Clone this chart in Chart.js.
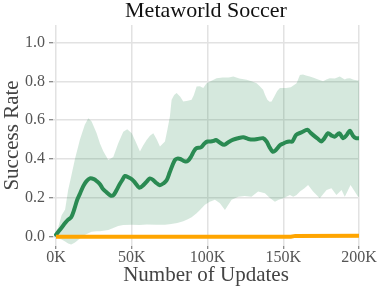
<!DOCTYPE html>
<html><head><meta charset="utf-8">
<script src="https://cdn.jsdelivr.net/npm/chart.js@4/dist/chart.umd.min.js"></script>
<style>html,body{margin:0;padding:0;background:#fff}#wrap{width:379px;height:296px}</style>
</head><body><div id="wrap"><canvas id="c" width="379" height="296"></canvas></div>
<script>
const titleText = 'Metaworld Soccer';
const xLabel = 'Number of Updates';
const yLabel = 'Success Rate';
const xTicks = [0, 50000, 100000, 150000, 200000];
const yTicks = [0, 0.2, 0.4, 0.6, 0.8, 1.0];

// Green method: mean success rate (x in thousands of updates)
const meanSteps = [0,1,2,4,6,8,10,12,14,16,18,20,22.4,25,27,29,31,33.4,36,38,40,42,44,45.5,48,50,52,55,58,60,62,64,66,68.5,71,73,75,77,78.5,80,82,85,87,89,91,92.6,95.6,98,100,102,104,105.5,108,111,114,117,120,123.6,127,130,133,136.7,139,141,143,145,148,150,152,154,156,158.5,162,166,168,171,173,175,177,179.6,182,184,187,189.5,192,194,196,198,200];
const meanValues = [0.01,0.02,0.03,0.05,0.07,0.088,0.10,0.14,0.19,0.225,0.26,0.285,0.30,0.296,0.285,0.27,0.245,0.228,0.212,0.215,0.24,0.27,0.295,0.313,0.305,0.296,0.28,0.252,0.268,0.285,0.30,0.293,0.278,0.265,0.275,0.29,0.33,0.37,0.395,0.402,0.40,0.388,0.39,0.41,0.44,0.455,0.46,0.48,0.49,0.49,0.493,0.498,0.485,0.473,0.488,0.50,0.507,0.512,0.503,0.50,0.503,0.507,0.49,0.46,0.438,0.445,0.472,0.48,0.487,0.49,0.49,0.524,0.537,0.55,0.535,0.515,0.503,0.49,0.505,0.533,0.52,0.515,0.533,0.507,0.525,0.546,0.52,0.507,0.507];

// Green band upper edge
const upperSteps = [0,1.5,3.7,6,8,10,12.5,15.8,19,21.3,23.5,26.8,29,31.2,34.5,37.8,41,44.4,47,50,52.5,55.4,57.5,59.8,62,64.2,66.5,68.6,71.9,73.5,75.2,76.3,78,79.6,82,84,87,89.5,91,92.8,95,97.2,99.4,102,106,110,114,117,121,125.8,129,132.4,134.5,136.7,138,139.5,141,142.3,144,146,147.8,150,152,155,158.8,161,163,165,167.5,170,173,176.3,178.5,180.7,184,187.3,190.6,192,194,196.5,199.4,200];
const upperValues = [0.02,0.05,0.11,0.14,0.24,0.31,0.40,0.50,0.576,0.61,0.593,0.533,0.48,0.44,0.395,0.41,0.48,0.54,0.553,0.533,0.49,0.438,0.47,0.498,0.52,0.533,0.50,0.464,0.49,0.55,0.62,0.705,0.73,0.74,0.72,0.696,0.70,0.705,0.73,0.773,0.775,0.765,0.79,0.80,0.816,0.82,0.82,0.825,0.815,0.808,0.80,0.79,0.775,0.756,0.73,0.705,0.695,0.696,0.72,0.75,0.765,0.765,0.765,0.77,0.79,0.833,0.835,0.83,0.825,0.818,0.81,0.80,0.81,0.816,0.815,0.825,0.81,0.815,0.816,0.808,0.804,0.804];

// Green band lower edge
const lowerSteps = [0,1.5,3.7,6,8,10,12.5,15.8,19,21.3,23.5,26.8,29,31.2,34.5,37.8,41,44.4,50,55,60,66,72,76,80,84,87,89.5,92.8,95,98.3,101.5,104.9,108.2,111.5,115.9,120.3,124.6,129,133.4,137.9,141,144.5,147,150,154.4,156.6,158.8,161,164,166.4,169.7,172,174.1,176.4,178.6,181.8,185.1,188.5,190.6,192.5,194.4,197.2,199.4,200];
const lowerValues = [0.0,-0.01,-0.015,-0.025,-0.035,-0.04,-0.03,-0.01,0.008,0.018,0.025,0.028,0.028,0.03,0.035,0.045,0.055,0.06,0.062,0.06,0.063,0.062,0.062,0.065,0.07,0.08,0.09,0.10,0.12,0.138,0.165,0.18,0.19,0.172,0.138,0.19,0.206,0.21,0.206,0.232,0.224,0.2,0.18,0.19,0.198,0.215,0.206,0.215,0.232,0.25,0.266,0.232,0.215,0.198,0.22,0.24,0.25,0.215,0.24,0.206,0.235,0.266,0.232,0.206,0.205];

// Orange method: mean success rate
const orangeSteps = [0,155,158,200];
const orangeValues = [0,0,0.004,0.005];

const toPts = (xs, ys) => xs.map((x, i) => ({x: x * 1000, y: ys[i]}));
const FONT = '"Liberation Serif", "Times New Roman", serif';

const titlePlugin = {
  id: 'topTitle',
  afterDraw(chart) {
    const {ctx, chartArea} = chart;
    ctx.save();
    ctx.font = '22px ' + FONT;
    ctx.fillStyle = '#111';
    ctx.textAlign = 'center';
    ctx.textBaseline = 'alphabetic';
    ctx.fillText(titleText, (chartArea.left + chartArea.right) / 2, 17);
    ctx.restore();
  }
};

new Chart(document.getElementById('c'), {
  type: 'line',
  data: {
    datasets: [
      {data: toPts(upperSteps, upperValues), borderColor: 'rgba(0,0,0,0)', borderWidth: 0, pointRadius: 0,
       fill: '+1', backgroundColor: 'rgba(46,139,87,0.2)', order: 3, tension: 0},
      {data: toPts(lowerSteps, lowerValues), borderColor: 'rgba(0,0,0,0)', borderWidth: 0, pointRadius: 0,
       fill: false, order: 3, tension: 0},
      {data: toPts(meanSteps, meanValues), borderColor: '#2a8a52', borderWidth: 4, pointRadius: 0,
       fill: false, order: 2, tension: 0.3, borderCapStyle: 'round', borderJoinStyle: 'round'},
      {data: toPts(orangeSteps, orangeValues), borderColor: '#ffa500', borderWidth: 4, pointRadius: 0,
       fill: false, order: 1, tension: 0}
    ]
  },
  options: {
    responsive: false,
    animation: false,
    layout: {padding: {top: 25, right: 20, left: 0, bottom: 0}},
    plugins: {legend: {display: false}, tooltip: {enabled: false}, title: {display: false}},
    scales: {
      x: {
        type: 'linear', min: -2000, max: 200000,
        afterBuildTicks: s => { s.ticks = xTicks.map(v => ({value: v})); },
        afterFit: s => { s.height = 50; },
        ticks: {callback: v => (v / 1000) + 'K', color: '#555', font: {family: FONT, size: 16, lineHeight: 1.0},
                padding: 1, maxRotation: 0, autoSkip: false},
        grid: {color: '#e2e2e2', lineWidth: 1.5, tickLength: 3, tickColor: '#666', tickWidth: 1},
        border: {display: false},
        title: {display: true, text: xLabel, color: '#444', font: {family: FONT, size: 21}, padding: {top: 0, bottom: 8}}
      },
      y: {
        type: 'linear', min: -0.048, max: 1.09,
        afterBuildTicks: s => { s.ticks = yTicks.map(v => ({value: v})); },
        afterFit: s => { s.width = 53; },
        ticks: {callback: v => v.toFixed(1), color: '#555', font: {family: FONT, size: 16}, padding: 4},
        grid: {color: '#e2e2e2', lineWidth: 1.5, tickLength: 4, tickColor: '#666', tickWidth: 1},
        border: {display: false},
        title: {display: true, text: yLabel, color: '#444', font: {family: FONT, size: 21}, padding: {top: 0, bottom: 0}}
      }
    }
  },
  plugins: [titlePlugin]
});
</script>
</body></html>
